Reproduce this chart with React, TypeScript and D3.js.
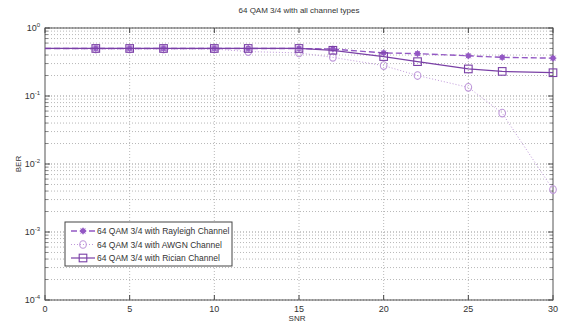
import React, { useRef, useEffect } from 'react';
import * as d3 from 'd3';

const snr = [0, 3, 5, 7, 10, 12, 15, 17, 20, 22, 25, 27, 30];
const rayleigh = [0.5, 0.5, 0.5, 0.5, 0.5, 0.5, 0.5, 0.49, 0.43, 0.42, 0.39, 0.37, 0.36];
const awgn = [0.5, 0.49, 0.49, 0.49, 0.49, 0.45, 0.43, 0.37, 0.28, 0.2, 0.134, 0.056, 0.0042];
const rician = [0.5, 0.5, 0.5, 0.5, 0.5, 0.5, 0.5, 0.47, 0.38, 0.32, 0.25, 0.23, 0.22];

const xTicks = [0, 5, 10, 15, 20, 25, 30];
const yExponents = [0, -1, -2, -3, -4];

const title = '64 QAM 3/4 with all channel types';
const legendLabels = [
    '64 QAM 3/4 with Rayleigh Channel',
    '64 QAM 3/4 with AWGN Channel',
    '64 QAM 3/4 with Rician Channel',
];

const App = () => {
    const ref = useRef(null);

    useEffect(() => {
        const root = d3.select(ref.current);
        root.selectAll('*').remove();

        const W = 561, H = 324;
        const left = 45, right = 553, top = 28, bottom = 300;
        const font = 'Liberation Sans, Arial, sans-serif';

        root.attr('width', W).attr('height', H);
        root.append('rect').attr('width', W).attr('height', H).attr('fill', '#fff');

        const x = d3.scaleLinear().domain([0, 30]).range([left, right]);
        const y = d3.scaleLog().domain([1e-4, 1]).range([bottom, top]);

        const gridColor = '#999';

        // minor grid (log decades)
        for (let e = -4; e < 0; e++) {
            for (let m = 2; m <= 9; m++) {
                const v = m * Math.pow(10, e);
                root.append('line')
                    .attr('x1', left).attr('x2', right)
                    .attr('y1', y(v)).attr('y2', y(v))
                    .attr('stroke', gridColor).attr('stroke-width', 0.7)
                    .attr('stroke-dasharray', '1,2');
                root.append('line').attr('x1', left).attr('x2', left + 3)
                    .attr('y1', y(v)).attr('y2', y(v)).attr('stroke', '#555').attr('stroke-width', 0.7);
                root.append('line').attr('x1', right - 3).attr('x2', right)
                    .attr('y1', y(v)).attr('y2', y(v)).attr('stroke', '#555').attr('stroke-width', 0.7);
            }
        }
        // major grid
        yExponents.forEach(e => {
            const v = Math.pow(10, e);
            root.append('line')
                .attr('x1', left).attr('x2', right)
                .attr('y1', y(v)).attr('y2', y(v))
                .attr('stroke', '#777').attr('stroke-width', 0.8)
                .attr('stroke-dasharray', '1,2');
            root.append('line').attr('x1', left).attr('x2', left + 5)
                .attr('y1', y(v)).attr('y2', y(v)).attr('stroke', '#444');
            root.append('line').attr('x1', right - 5).attr('x2', right)
                .attr('y1', y(v)).attr('y2', y(v)).attr('stroke', '#444');
            const t = root.append('text')
                .attr('x', left - 5).attr('y', y(v) + 3)
                .attr('text-anchor', 'end')
                .attr('font-family', font).attr('font-size', 9).attr('fill', '#333');
            t.append('tspan').text('10');
            t.append('tspan').attr('dy', -4).attr('font-size', 6).text(String(e));
        });
        xTicks.forEach(t => {
            if (t > 0 && t < 30) {
                root.append('line')
                    .attr('x1', x(t)).attr('x2', x(t))
                    .attr('y1', top).attr('y2', bottom)
                    .attr('stroke', gridColor).attr('stroke-width', 0.7)
                    .attr('stroke-dasharray', '1,2');
            }
            root.append('line').attr('x1', x(t)).attr('x2', x(t))
                .attr('y1', bottom).attr('y2', bottom - 5).attr('stroke', '#444');
            root.append('line').attr('x1', x(t)).attr('x2', x(t))
                .attr('y1', top).attr('y2', top + 5).attr('stroke', '#444');
            root.append('text')
                .attr('x', x(t)).attr('y', bottom + 12)
                .attr('text-anchor', 'middle')
                .attr('font-family', font).attr('font-size', 9).attr('fill', '#333')
                .text(t);
        });

        // frame
        root.append('rect')
            .attr('x', left).attr('y', top)
            .attr('width', right - left).attr('height', bottom - top)
            .attr('fill', 'none').attr('stroke', '#555').attr('stroke-width', 1);

        // labels
        root.append('text').attr('x', 299).attr('y', 13)
            .attr('text-anchor', 'middle').attr('font-family', font).attr('font-size', 8)
            .attr('fill', '#333').text(title);
        root.append('text').attr('x', 297).attr('y', 321)
            .attr('text-anchor', 'middle').attr('font-family', font).attr('font-size', 8)
            .attr('fill', '#333').text('SNR');
        root.append('text')
            .attr('transform', `translate(21, ${y(1e-2)}) rotate(-90)`)
            .attr('text-anchor', 'middle').attr('font-family', font).attr('font-size', 8)
            .attr('fill', '#333').text('BER');

        const series = [
            { values: rayleigh, color: '#9358c4', dash: '6,3', marker: 'star', width: 1.4 },
            { values: awgn, color: '#bf98da', dash: '1,2', marker: 'circle', width: 1 },
            { values: rician, color: '#7a40a6', dash: null, marker: 'square', width: 1.2 },
        ];

        const line = d3.line<number>()
            .x((d, i) => x(snr[i]))
            .y(d => y(d));

        const drawMarker = (g, kind, cx, cy, color) => {
            if (kind === 'circle') {
                g.append('ellipse').attr('cx', cx).attr('cy', cy).attr('rx', 3.3).attr('ry', 3.8)
                    .attr('fill', 'none').attr('stroke', color).attr('stroke-width', 1.1);
            } else if (kind === 'square') {
                g.append('rect').attr('x', cx - 3.8).attr('y', cy - 3.8).attr('width', 7.6).attr('height', 7.6)
                    .attr('fill', 'none').attr('stroke', color).attr('stroke-width', 1.1);
            } else {
                g.append('circle').attr('cx', cx).attr('cy', cy).attr('r', 2.4)
                    .attr('fill', color).attr('stroke', color).attr('stroke-width', 0.8);
                [[-3.5, 0, 3.5, 0], [0, -3.5, 0, 3.5], [-2.5, -2.5, 2.5, 2.5], [-2.5, 2.5, 2.5, -2.5]].forEach(s => {
                    g.append('line').attr('x1', cx + s[0]).attr('y1', cy + s[1])
                        .attr('x2', cx + s[2]).attr('y2', cy + s[3])
                        .attr('stroke', color).attr('stroke-width', 0.8);
                });
            }
        };

        series.forEach(s => {
            const p = root.append('path')
                .datum(s.values)
                .attr('fill', 'none')
                .attr('stroke', s.color)
                .attr('stroke-width', s.width)
                .attr('d', line);
            if (s.dash) p.attr('stroke-dasharray', s.dash);
            const g = root.append('g');
            s.values.forEach((v, i) => {
                if (snr[i] === 0) return; // marker at 0 not shown in the original
                drawMarker(g, s.marker, x(snr[i]), y(v), s.color);
            });
        });

        // legend
        const lx = 65, ly = 222, lw = 167, lh = 44;
        root.append('rect').attr('x', lx).attr('y', ly).attr('width', lw).attr('height', lh)
            .attr('fill', '#fff').attr('stroke', '#444').attr('stroke-width', 1);
        series.forEach((s, i) => {
            const yy = ly + 9 + i * 13.5;
            const l = root.append('line').attr('x1', lx + 6).attr('x2', lx + 30)
                .attr('y1', yy).attr('y2', yy)
                .attr('stroke', s.color).attr('stroke-width', s.width);
            if (s.dash) l.attr('stroke-dasharray', s.dash);
            drawMarker(root, s.marker, lx + 18, yy, s.color);
            root.append('text').attr('x', lx + 32).attr('y', yy + 3)
                .attr('font-family', font).attr('font-size', 8.5).attr('fill', '#333')
                .text(legendLabels[i]);
        });
    }, []);

    return (
        <svg ref={ref} style={{ position: 'fixed', left: 0, top: 0, display: 'block' }} />
    );
};

export default App;
